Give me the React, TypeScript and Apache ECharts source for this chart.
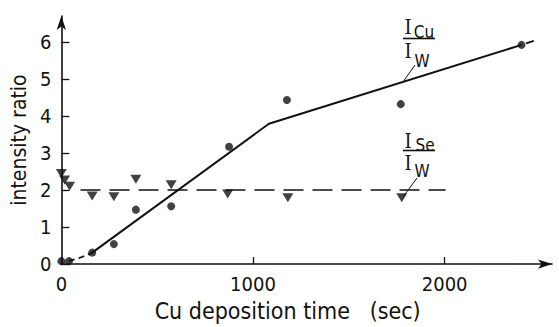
import React, { useEffect, useRef } from "react";
import * as echarts from "echarts";

const cuPoints: [number, number][] = [
  [0, 0.08], [40, 0.08], [161, 0.31], [274, 0.54], [389, 1.47],
  [573, 1.56], [875, 3.17], [1177, 4.43], [1771, 4.32], [2401, 5.92],
];
const sePoints: [number, number][] = [
  [0, 2.45], [17, 2.27], [43, 2.1], [161, 1.84], [274, 1.82], [389, 2.29],
  [573, 2.14], [868, 1.89], [1182, 1.79], [1776, 1.79],
];
const cuFitStart: [number, number][] = [[40, 0.09], [95, 0.17], [161, 0.31]];
const cuFitMain: [number, number][] = [[161, 0.31], [1083, 3.79], [2401, 5.92]];
const cuFitEnd: [number, number][] = [[2425, 5.96], [2484, 6.06]];
const seFit: [number, number][] = [[100, 2], [2005, 2]];
const xTicks = [0, 1000, 2000];
const yTicks = [0, 1, 2, 3, 4, 5, 6];

const FONT = "'DejaVu Sans Condensed', 'Liberation Sans Narrow', 'DejaVu Sans', sans-serif";
const SERIF = "'DejaVu Serif Condensed', 'DejaVu Serif', 'Liberation Serif', serif";
const INK = "#111";

export default function App() {
  const ref = useRef<HTMLDivElement>(null);
  useEffect(() => {
    if (!ref.current) return;
    const chart = echarts.init(ref.current, undefined, { renderer: "svg" });
    const txt = (x: number, y: number, s: string, size: number, fam = FONT) => ({
      type: "text",
      x,
      y,
      style: {
        text: s, fill: INK, font: `${size}px ${fam}`, lineHeight: Math.round(size * 0.75),
        textAlign: "center", textVerticalAlign: "middle",
      },
    });
    const ln = (x1: number, y1: number, x2: number, y2: number, w = 1.4) => ({
      type: "line",
      shape: { x1, y1, x2, y2 },
      style: { stroke: INK, lineWidth: w },
    });
    chart.setOption({
      animation: false,
      backgroundColor: "#fff",
      textStyle: { fontFamily: FONT, color: INK },
      grid: { left: 60, right: 7, top: 16, bottom: 60 },
      xAxis: {
        type: "value",
        min: 0,
        max: 2560,
        name: "Cu deposition time   (sec)",
        nameLocation: "middle",
        nameGap: 34,
        nameTextStyle: { fontSize: 23, color: INK, fontFamily: FONT, padding: [0, 38, 0, 0] },
        axisLine: { show: true, symbol: ["none", "arrow"], symbolSize: [7, 14], lineStyle: { color: INK, width: 1.6 } },
        axisTick: { show: true, inside: true, length: 7, customValues: xTicks, lineStyle: { color: INK, width: 1.3 } },
        axisLabel: {
          customValues: xTicks, fontSize: 20, color: INK, fontFamily: FONT, margin: 10,
          formatter: (v: number) => String(v),
        },
        splitLine: { show: false },
      },
      yAxis: {
        type: "value",
        min: 0,
        max: 6.7,
        name: "intensity ratio",
        nameLocation: "middle",
        nameGap: 27,
        nameTextStyle: { fontSize: 21, color: INK, fontFamily: FONT },
        axisLine: { show: true, symbol: ["none", "arrow"], symbolSize: [7, 14], lineStyle: { color: INK, width: 1.6 } },
        axisTick: { show: true, inside: true, length: 8, customValues: yTicks, lineStyle: { color: INK, width: 1.3 } },
        axisLabel: {
          customValues: yTicks, fontSize: 20, color: INK, fontFamily: FONT, margin: 10,
          formatter: (v: number) => String(v),
        },
        splitLine: { show: false },
      },
      series: [
        {
          type: "line", data: cuFitStart, showSymbol: false, smooth: true,
          lineStyle: { color: INK, width: 1.8, type: [6, 4] },
        },
        {
          type: "line", data: cuFitMain, showSymbol: false,
          lineStyle: { color: INK, width: 2 },
        },
        {
          type: "line", data: cuFitEnd, showSymbol: false,
          lineStyle: { color: INK, width: 2, type: [8, 5] },
        },
        {
          type: "line", data: seFit, showSymbol: false,
          lineStyle: { color: INK, width: 1.5, type: [20, 9] },
        },
        {
          type: "scatter", data: cuPoints, symbol: "circle", symbolSize: 8,
          itemStyle: { color: INK },
        },
        {
          type: "scatter", data: sePoints, symbol: "triangle", symbolRotate: 180, symbolSize: [11, 9],
          itemStyle: { color: INK },
        },
      ],
      graphic: [
        txt(408, 27, "I", 20, SERIF),
        txt(424, 32, "Cu", 17),
        ln(403, 38.5, 435, 38.5, 1.6),
        txt(408, 51, "I", 20, SERIF),
        txt(422, 61, "W", 17),
        ln(415, 65, 403, 82, 1),
        txt(408, 140.5, "I", 20, SERIF),
        txt(425, 145, "Se", 17),
        ln(403, 150.5, 435, 150.5, 1.6),
        txt(408, 162.5, "I", 20, SERIF),
        txt(422, 171, "W", 17),
        ln(417, 178, 403, 197, 1),
      ],
    });
    return () => chart.dispose();
  }, []);
  return <div ref={ref} style={{ width: 559, height: 327, position: "absolute", left: 0, top: 0 }} />;
}
